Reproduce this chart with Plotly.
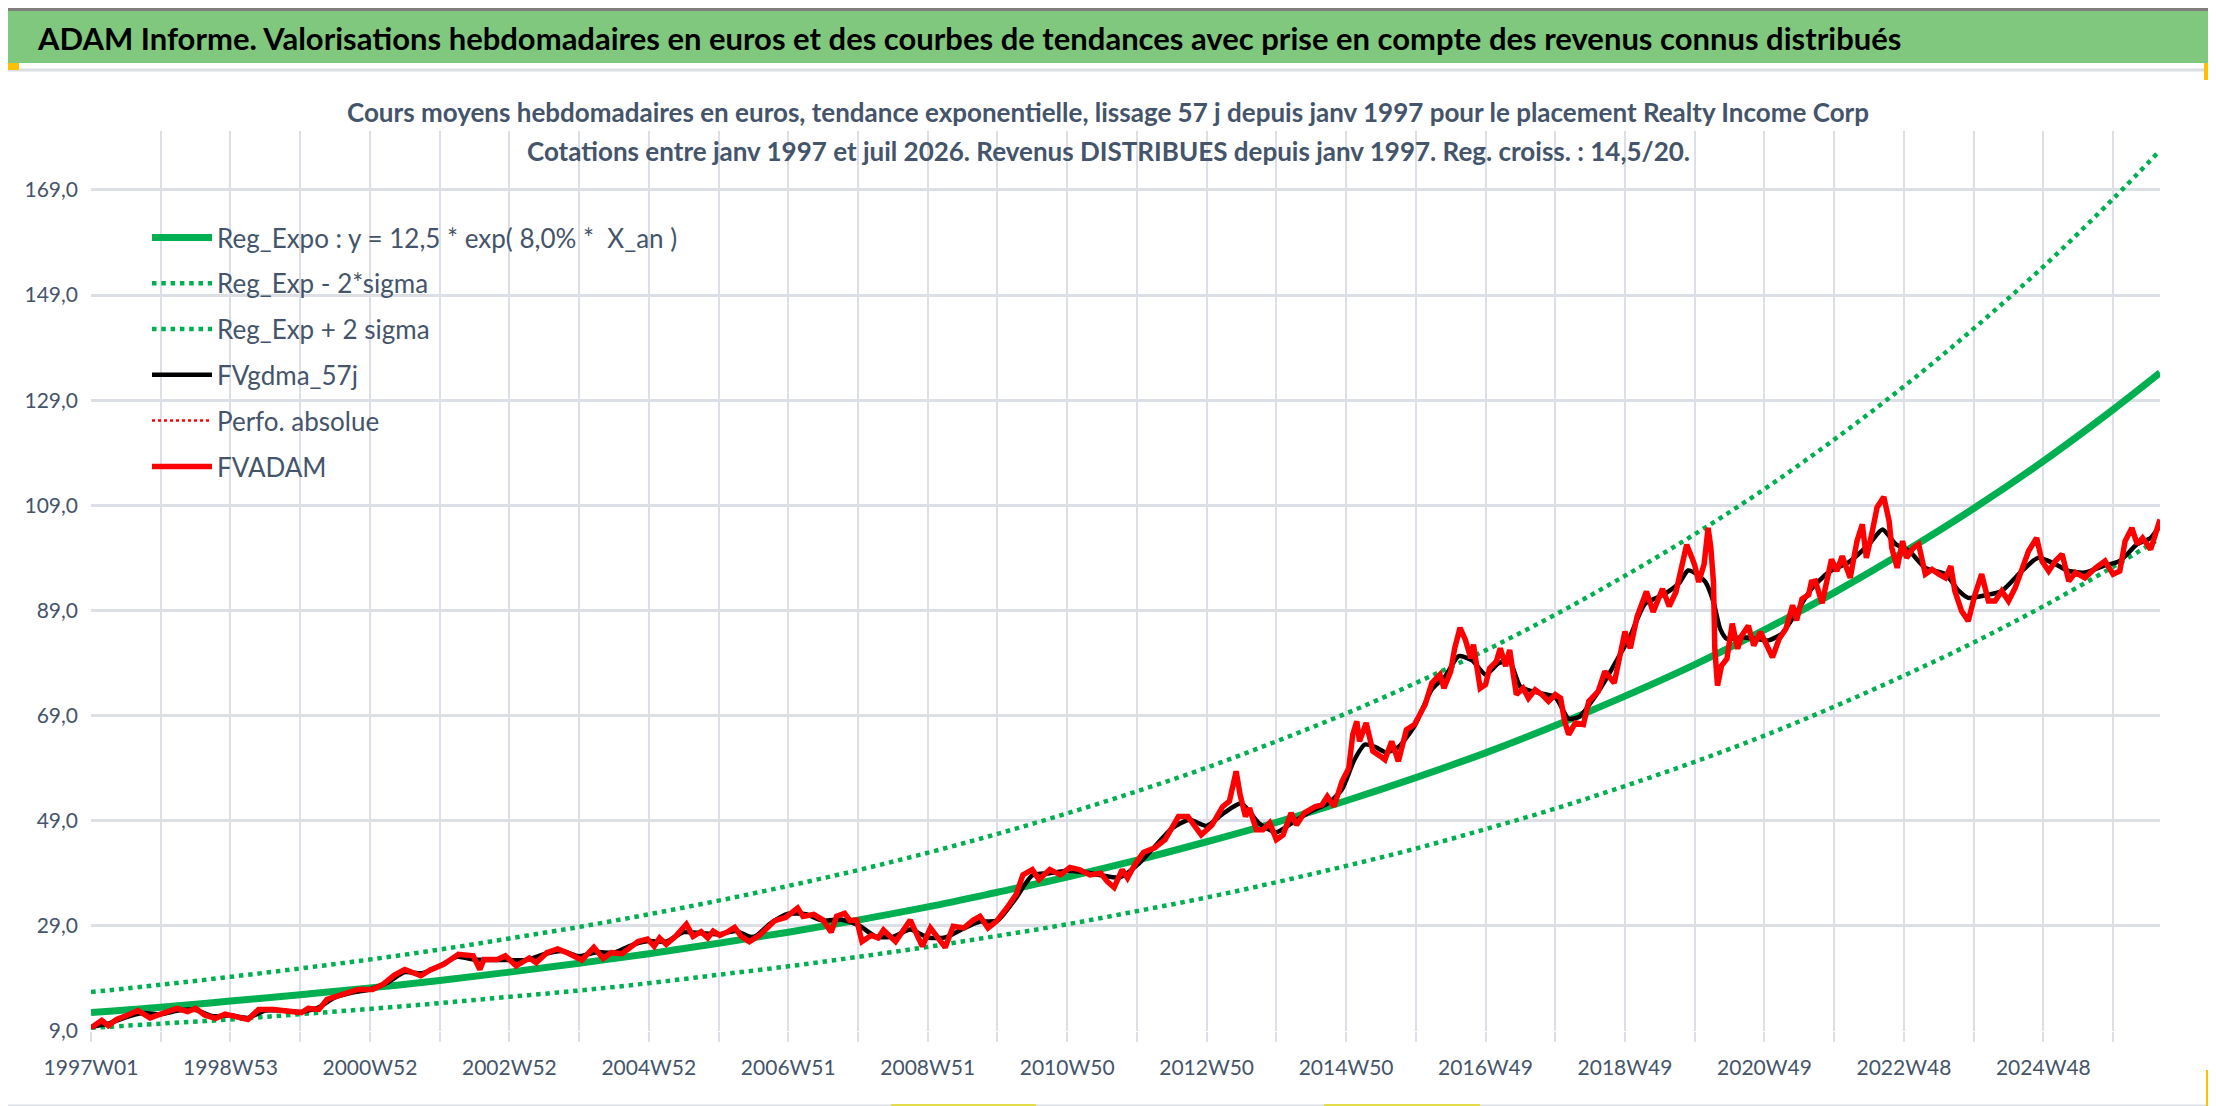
import plotly.graph_objects as go

# semaines comptees depuis 1997W01 (0 = 1997W01)
semaines_fvadam = [0, 4, 8, 13, 19, 27, 35, 44, 51, 64, 72, 78, 85, 93, 100, 109, 117, 125, 136, 146,
                   157, 162, 170, 176, 189, 199, 210, 218, 226, 234, 246, 253, 263, 274, 285, 290, 293, 303, 309, 317,
                   327, 332, 340, 348, 356, 366, 375, 382, 388, 396, 408, 415, 420, 424, 429, 436, 444, 449, 455, 460,
                   464, 469, 475, 480, 485, 491, 499, 510, 518, 527, 531, 539, 546, 552, 556, 562, 566, 571, 575, 582,
                   587, 591, 600, 611, 616, 620, 626, 631, 637, 643, 651, 658, 663, 669, 675, 683, 690, 695, 702, 707,
                   715, 723, 730, 737, 745, 753, 758, 763, 769, 773, 779, 785, 793, 801, 811, 818, 823, 828, 836, 844,
                   849, 854, 857, 861, 864, 869, 874, 879, 884, 889, 895, 899, 905, 913, 918, 922, 927, 933, 938, 941,
                   944, 946, 951, 956, 962, 965, 970, 975, 981, 987, 995, 1000, 1006, 1009, 1014, 1017, 1021, 1025, 1029, 1031,
                   1036, 1040, 1043, 1048, 1051, 1055, 1058, 1063, 1068, 1072, 1077, 1082, 1087, 1092, 1096, 1099, 1102, 1107, 1113, 1117,
                   1124, 1129, 1136, 1139, 1144, 1148, 1153, 1160, 1165, 1172, 1177, 1182, 1187, 1190, 1194, 1196, 1199, 1203, 1206, 1208,
                   1210, 1211, 1213, 1216, 1220, 1224, 1228, 1231, 1236, 1240, 1245, 1249, 1254, 1259, 1264, 1269, 1272, 1276, 1281, 1283,
                   1286, 1291, 1295, 1298, 1302, 1306, 1312, 1317, 1321, 1324, 1328, 1332, 1337, 1341, 1343, 1347, 1351, 1354, 1359, 1363,
                   1368, 1373, 1378, 1383, 1387, 1390, 1395, 1400, 1405, 1410, 1415, 1420, 1425, 1430, 1435, 1440, 1445, 1451, 1455, 1460,
                   1465, 1470, 1475, 1480, 1487, 1495, 1502, 1508, 1513, 1517, 1522, 1526, 1530, 1536, 1540, 1543]
fvadam = [9.6, 10.3, 11.0, 10.0, 11.2, 12.0, 12.9, 11.5, 12.2, 13.3, 12.7, 13.3, 12.0, 11.4, 12.2, 11.7, 11.2, 13.1, 13.1, 12.8,
          12.5, 13.3, 13.1, 15.0, 16.0, 16.9, 16.9, 17.9, 19.6, 20.7, 19.5, 20.6, 21.7, 23.6, 23.3, 20.7, 22.6, 22.6, 23.3, 21.4,
          22.9, 22.0, 23.9, 24.6, 23.8, 22.5, 24.9, 22.8, 23.9, 23.7, 26.0, 26.5, 25.1, 26.7, 25.5, 27.0, 29.3, 27.0, 27.9, 26.7,
          28.0, 27.2, 27.9, 28.7, 27.0, 26.0, 27.3, 30.0, 30.6, 32.4, 30.8, 31.2, 30.1, 27.8, 30.8, 31.4, 30.0, 30.1, 26.0, 27.2,
          26.7, 28.2, 26.0, 30.1, 27.3, 25.1, 28.6, 27.0, 24.9, 28.9, 28.6, 30.1, 30.8, 28.6, 29.8, 32.4, 35.0, 38.7, 39.7, 37.8,
          39.7, 38.7, 40.1, 39.7, 38.7, 39.0, 37.4, 36.3, 39.7, 38.1, 40.9, 43.0, 43.8, 45.4, 49.8, 49.8, 48.2, 46.3, 48.2, 51.7,
          52.7, 58.4, 53.9, 49.8, 51.4, 47.3, 47.3, 48.6, 45.4, 46.3, 50.5, 48.2, 50.5, 51.7, 52.0, 53.6, 51.7, 56.5, 59.0, 65.4,
          67.9, 64.1, 67.6, 62.2, 61.2, 60.6, 64.1, 60.3, 66.3, 67.3, 71.1, 75.2, 76.8, 74.2, 77.4, 81.8, 85.7, 83.4, 79.9, 82.5,
          74.2, 74.9, 78.0, 79.3, 81.8, 78.4, 81.5, 73.0, 74.2, 72.3, 73.9, 73.0, 71.7, 73.0, 72.3, 67.9, 65.4, 67.6, 67.3, 71.7,
          73.6, 77.4, 75.2, 79.3, 85.0, 81.8, 87.8, 92.6, 88.7, 93.1, 89.8, 92.5, 97.5, 101.5, 99.0, 97.6, 94.4, 97.8, 104.7, 101.0,
          94.4, 81.7, 74.7, 78.5, 79.8, 86.5, 81.7, 84.2, 86.1, 82.3, 84.9, 83.0, 80.1, 83.6, 85.5, 90.0, 87.1, 91.2, 92.0, 94.4,
          94.6, 90.4, 95.2, 98.7, 96.5, 99.3, 95.2, 102.2, 105.4, 99.0, 103.5, 108.6, 110.6, 106.0, 100.9, 97.1, 102.2, 99.0, 100.9, 101.6,
          95.9, 96.8, 95.9, 95.2, 97.4, 92.7, 88.9, 87.0, 92.0, 95.9, 90.8, 90.8, 92.7, 90.8, 93.3, 96.5, 100.3, 102.8, 98.4, 96.5,
          98.4, 99.7, 94.6, 96.2, 95.2, 97.1, 98.4, 95.9, 96.5, 102.2, 104.7, 101.6, 102.8, 100.6, 104.1, 106.3]

semaines_gdma = [0, 13, 26, 39, 52, 65, 78, 91, 104, 117, 130, 143, 156, 169, 182, 195, 208, 221, 234, 247,
                 260, 273, 286, 299, 312, 325, 338, 351, 364, 377, 390, 403, 416, 429, 442, 455, 468, 481, 494, 507,
                 520, 533, 546, 559, 572, 585, 598, 611, 624, 637, 650, 663, 676, 689, 702, 715, 728, 741, 754, 767,
                 780, 793, 806, 819, 832, 845, 858, 871, 884, 897, 910, 923, 933, 942, 950, 958, 966, 975, 987, 1000,
                 1010, 1020, 1030, 1040, 1050, 1058, 1066, 1080, 1092, 1102, 1110, 1120, 1130, 1140, 1147, 1159, 1172, 1184, 1191, 1197,
                 1204, 1210, 1215, 1220, 1231, 1241, 1251, 1261, 1272, 1283, 1296, 1311, 1326, 1336, 1346, 1356, 1368, 1383, 1393, 1400,
                 1415, 1425, 1440, 1452, 1465, 1475, 1487, 1500, 1513, 1526, 1536, 1543]
fvgdma_57j = [9.8, 10.4, 11.6, 12.4, 12.2, 12.9, 13.0, 11.8, 12.0, 11.5, 12.9, 12.9, 12.6, 13.4, 15.4, 16.3, 16.9, 18.2, 20.2, 20.0,
              21.4, 23.1, 22.6, 22.5, 22.5, 22.5, 23.6, 24.2, 23.2, 24.0, 23.9, 25.3, 26.1, 26.0, 27.8, 27.6, 27.4, 28.0, 26.8, 29.5,
              31.3, 31.2, 30.0, 30.2, 29.2, 27.0, 26.9, 28.3, 26.8, 26.8, 28.4, 29.8, 30.0, 34.0, 38.6, 39.0, 39.5, 39.2, 38.6, 38.2,
              40.5, 44.0, 47.5, 49.2, 48.0, 50.5, 52.3, 48.5, 46.8, 48.8, 50.8, 52.4, 55.0, 60.5, 63.5, 63.0, 62.0, 63.0, 67.0, 74.0,
              76.5, 80.3, 79.5, 76.8, 79.0, 79.3, 74.5, 73.3, 72.5, 68.4, 68.8, 72.0, 76.0, 80.5, 83.6, 90.3, 91.9, 94.1, 96.6, 96.0,
              94.4, 90.6, 85.5, 83.6, 83.9, 83.6, 83.3, 84.6, 88.7, 93.1, 96.3, 98.2, 101.6, 104.4, 101.6, 100.3, 97.1, 95.9, 92.7, 91.4,
              92.0, 92.7, 96.5, 99.0, 97.8, 96.5, 96.2, 97.4, 98.4, 101.6, 102.8, 105.1]

# tendance exponentielle et bandes +/- 2 sigma, lues une fois par an
semaines_reg = [0, 52, 104, 156, 208, 260, 312, 364, 416, 468, 520, 572, 624, 676, 728, 780,
                832, 884, 936, 988, 1040, 1092, 1144, 1196, 1248, 1300, 1352, 1404, 1456, 1508, 1543]
reg_expo = [12.5, 13.5, 14.7, 15.9, 17.2, 18.6, 20.2, 21.9, 23.7, 25.7, 27.8, 30.1, 32.6, 35.4, 38.3, 41.5,
            45.0, 48.7, 52.8, 57.2, 61.9, 67.1, 72.7, 78.7, 85.3, 92.4, 100.1, 108.4, 117.4, 127.2, 134.2]
reg_moins_2sigma = [9.6, 10.4, 11.2, 12.2, 13.2, 14.3, 15.5, 16.7, 18.1, 19.7, 21.3, 23.1, 25.0, 27.1, 29.3, 31.8,
                    34.4, 37.3, 40.4, 43.7, 47.4, 51.3, 55.6, 60.2, 65.2, 70.7, 76.6, 82.9, 89.8, 97.3, 102.7]
reg_plus_2sigma = [16.4, 17.8, 19.3, 20.9, 22.6, 24.5, 26.6, 28.8, 31.2, 33.8, 36.6, 39.6, 42.9, 46.5, 50.4, 54.6,
                   59.1, 64.1, 69.4, 75.2, 81.4, 88.2, 95.6, 103.5, 112.1, 121.5, 131.6, 142.6, 154.4, 167.3, 176.5]
# serie sans valeur visible sur le graphique
semaines_perfo = [0]
perfo_absolue = [None]

etiquettes = ["1997W01", "1998W53", "2000W52", "2002W52", "2004W52", "2006W51", "2008W51",
              "2010W50", "2012W50", "2014W50", "2016W49", "2018W49", "2020W49", "2022W48", "2024W48"]
pas_etiquettes = 104
valeurs_y = [9, 29, 49, 69, 89, 109, 129, 149, 169]

W, H = 2216, 1106
L, R, T, B = 83, 64, 123, 83
PW, PH = W - L - R, H - T - B


def px_x(x):
    return (x - L) / PW


def px_y(y):
    return 1 - (y - T) / PH


vert = "#00B050"
texte = "#44546A"
grille = "#DCE0E6"

fig = go.Figure()
fig.add_trace(go.Scatter(x=semaines_reg, y=reg_expo, mode="lines", name="Reg_Expo : y = 12,5 * exp( 8,0% *  X_an )",
                         line=dict(color=vert, width=7, shape="spline"), legendgroup="a"))
fig.add_trace(go.Scatter(x=semaines_reg, y=reg_moins_2sigma, mode="lines", name="Reg_Exp - 2*sigma",
                         line=dict(color=vert, width=4.5, dash="4.5px,4.8px", shape="spline"), legendgroup="b"))
fig.add_trace(go.Scatter(x=semaines_reg, y=reg_plus_2sigma, mode="lines", name="Reg_Exp + 2 sigma",
                         line=dict(color=vert, width=4.5, dash="4.5px,4.8px", shape="spline"), legendgroup="c"))
fig.add_trace(go.Scatter(x=semaines_gdma, y=fvgdma_57j, mode="lines", name="FVgdma_57j",
                         line=dict(color="black", width=4.5, shape="spline", smoothing=0.6), legendgroup="d"))
fig.add_trace(go.Scatter(x=semaines_perfo, y=perfo_absolue, mode="lines", name="Perfo. absolue",
                         line=dict(color="#FF0000", width=2.5, dash="3px,3px"), legendgroup="e"))
fig.add_trace(go.Scatter(x=semaines_fvadam, y=fvadam, mode="lines", name="FVADAM",
                         line=dict(color="#FF0000", width=5.5), legendgroup="f"))

tickvals = list(range(0, 1509, 52))
ticktext = [etiquettes[v // pas_etiquettes] if v % pas_etiquettes == 0 else "" for v in tickvals]

fig.update_xaxes(range=[0, 1543], tickmode="array", tickvals=tickvals, ticktext=ticktext,
                 showgrid=True, gridcolor=grille, gridwidth=1.5, zeroline=False, showline=False,
                 ticks="outside", ticklen=10, tickwidth=1.5, tickcolor=grille, ticklabelstandoff=8,
                 tickfont=dict(family="Lato", size=21, color=texte))
fig.update_yaxes(range=[9, 180.2], tickmode="array", tickvals=valeurs_y, tickformat=".1f",
                 showgrid=True, gridcolor=grille, gridwidth=3, zeroline=False, showline=False,
                 ticks="", ticklabelstandoff=12, tickfont=dict(family="Lato", size=21, color=texte))

formes = [
    dict(type="rect", x0=px_x(0), x1=px_x(W), y0=px_y(3), y1=px_y(55), fillcolor="#80C87D", line_width=0),
    dict(type="rect", x0=px_x(0), x1=px_x(W), y0=px_y(0), y1=px_y(3), fillcolor="#7F7F7F", line_width=0),
    dict(type="line", x0=px_x(0), x1=px_x(W), y0=px_y(62), y1=px_y(62), line=dict(color="#DADDE2", width=3)),
    dict(type="line", x0=px_x(0), x1=px_x(W), y0=px_y(1098), y1=px_y(1098), line=dict(color="#DADDE2", width=3)),
    dict(type="line", x0=px_x(2207), x1=px_x(2207), y0=px_y(62), y1=px_y(1098), line=dict(color="#DADDE2", width=2)),
    dict(type="rect", x0=px_x(0), x1=px_x(11), y0=px_y(55), y1=px_y(62), fillcolor="#FFC000", line_width=0),
    dict(type="rect", x0=px_x(2196), x1=px_x(W), y0=px_y(55), y1=px_y(72), fillcolor="#FFC000", line_width=0),
    dict(type="rect", x0=px_x(2198), x1=px_x(W), y0=px_y(1062), y1=px_y(1100), fillcolor="#FFC000", line_width=0),
    dict(type="rect", x0=px_x(883), x1=px_x(1028), y0=px_y(1096), y1=px_y(1100), fillcolor="#E2DC4A", line_width=0),
    dict(type="rect", x0=px_x(1316), x1=px_x(1472), y0=px_y(1096), y1=px_y(1100), fillcolor="#E2DC4A", line_width=0),
]
for f in formes:
    f.update(xref="paper", yref="paper", layer="below")
    fig.add_shape(**f)

fig.add_annotation(text="<b>ADAM Informe. Valorisations hebdomadaires en euros et des courbes de tendances avec prise en compte des revenus connus distribués</b>",
                   xref="paper", yref="paper", x=px_x(27), y=px_y(30), xanchor="left", yanchor="middle",
                   showarrow=False, font=dict(family="Lato", size=31, color="black"))
fig.add_annotation(text="<b>Cours moyens hebdomadaires en euros, tendance exponentielle, lissage 57 j depuis janv 1997 pour le placement Realty Income Corp</b>",
                   xref="paper", yref="paper", x=px_x(W / 2 - 8), y=px_y(104), xanchor="center", yanchor="middle",
                   showarrow=False, font=dict(family="Lato", size=26, color=texte))
fig.add_annotation(text="<b>Cotations entre janv 1997 et juil 2026. Revenus DISTRIBUES depuis janv 1997. Reg. croiss. : 14,5/20.</b>",
                   xref="paper", yref="paper", x=px_x(W / 2 - 8), y=px_y(143), xanchor="center", yanchor="middle",
                   showarrow=False, font=dict(family="Lato", size=26, color=texte))

fig.update_layout(
    width=W, height=H,
    margin=dict(l=L, r=R, t=T, b=B),
    paper_bgcolor="white", plot_bgcolor="white",
    separators=", ",
    showlegend=True,
    legend=dict(x=px_x(139), y=px_y(206), xanchor="left", yanchor="top", traceorder="grouped",
                tracegroupgap=9, itemwidth=60, bgcolor="rgba(0,0,0,0)", borderwidth=0,
                font=dict(family="Lato", size=26, color=texte)),
)

fig.write_html("out.html")
